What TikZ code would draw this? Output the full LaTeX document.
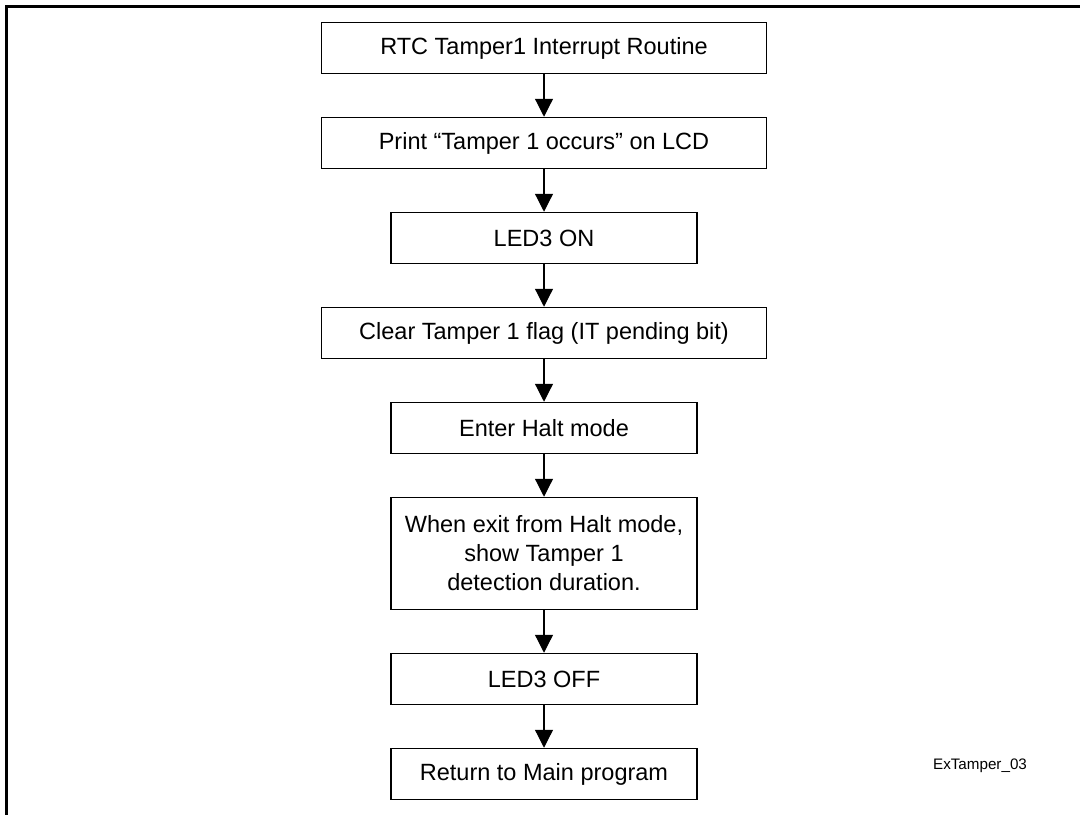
\documentclass[tikz,border=0pt]{standalone}
\usepackage{fontspec}
\setmainfont{Liberation Sans}
\usepackage{tikz}
\usetikzlibrary{arrows.meta,positioning}

\begin{document}
\begin{tikzpicture}[
    node distance=21.25pt,
    widebox/.style={rectangle, draw, line width=0.75pt, minimum width=222.5pt, minimum height=25.5pt, font=\fontsize{11.75pt}{14.5pt}\selectfont},
    narrowbox/.style={widebox, minimum width=153pt},
    arrow/.style={-{Triangle[width=9pt,length=9pt]}, line width=0.6pt}
]
    % Page and frame
    \clip (0,0) rectangle (540pt,-407pt);
    \draw[line width=1.5pt] (3pt,-430pt) -- (3pt,-3pt) -- (560pt,-3pt);

    % Steps
    \node[widebox] (rtc) at (272pt,-24pt) {RTC Tamper1 Interrupt Routine};
    \node[widebox, below=of rtc] (print) {Print “Tamper 1 occurs” on LCD};
    \node[narrowbox, below=of print] (ledon) {LED3 ON};
    \node[widebox, below=of ledon] (clear) {Clear Tamper 1 flag (IT pending bit)};
    \node[narrowbox, below=of clear] (halt) {Enter Halt mode};
    \node[narrowbox, below=of halt, minimum height=56pt, align=center] (show) {When exit from Halt mode,\\show Tamper 1\\detection duration.};
    \node[narrowbox, below=of show] (ledoff) {LED3 OFF};
    \node[narrowbox, below=of ledoff] (ret) {Return to Main program};
    \node[font=\fontsize{7.6pt}{9pt}\selectfont] (tag) at (490pt,-383pt) {ExTamper\_03};

    % Arrows
    \draw[arrow] (rtc) -- (print);
    \draw[arrow] (print) -- (ledon);
    \draw[arrow] (ledon) -- (clear);
    \draw[arrow] (clear) -- (halt);
    \draw[arrow] (halt) -- (show);
    \draw[arrow] (show) -- (ledoff);
    \draw[arrow] (ledoff) -- (ret);

\end{tikzpicture}
\end{document}
